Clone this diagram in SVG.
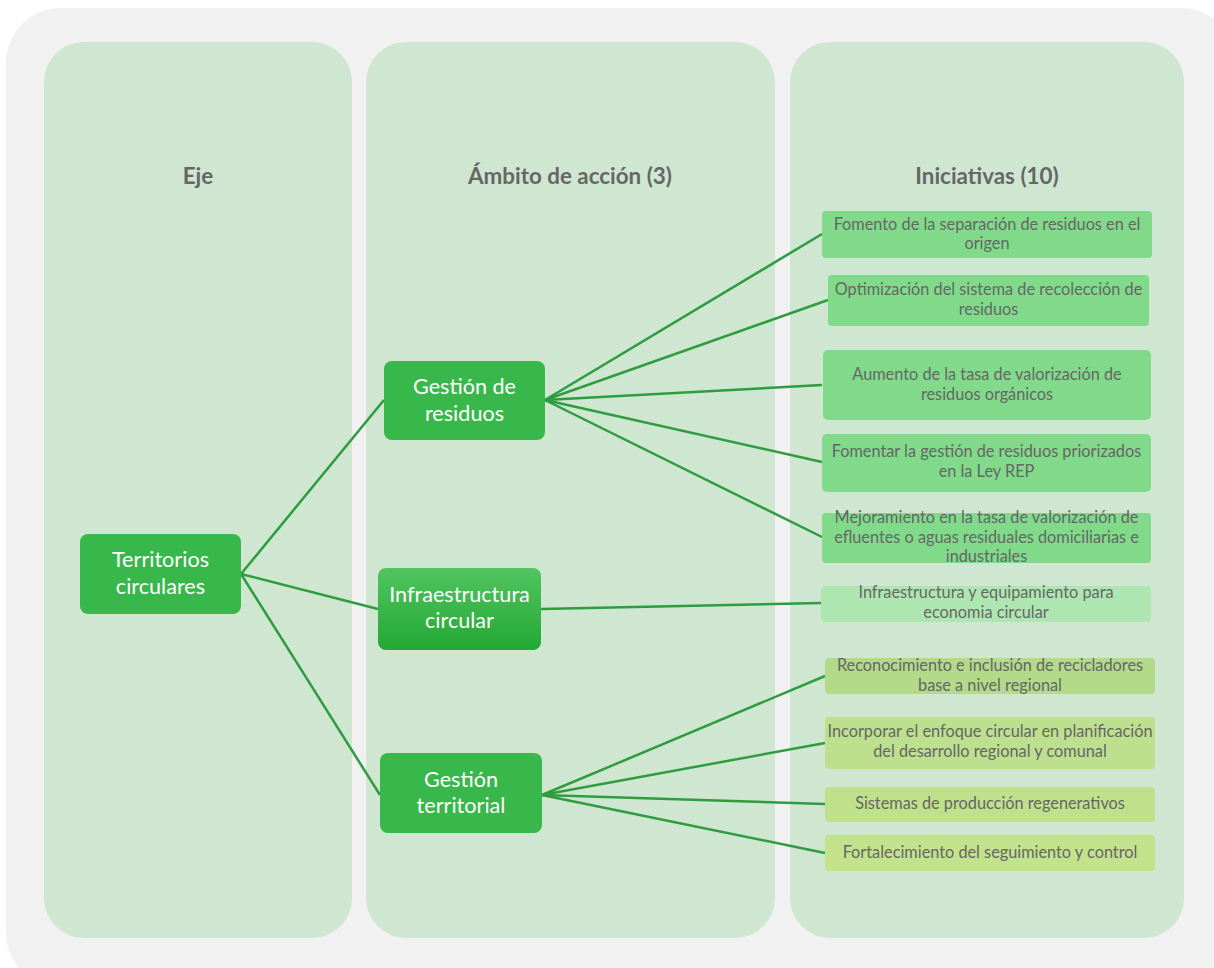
<svg xmlns="http://www.w3.org/2000/svg" width="1214" height="968" viewBox="0 0 1214 968">
<defs>
<linearGradient id="gInfra" x1="0" y1="0" x2="0" y2="1">
<stop offset="0" stop-color="#52c460"/>
<stop offset="1" stop-color="#22a834"/>
</linearGradient>
<style>
.col{fill:#cfe6d1}
.hdr{font-family:Lato,"Liberation Sans",sans-serif;font-weight:bold;font-size:22.4px;fill:#666;text-anchor:middle}
.main{fill:#38b84a}
.mt{font-family:Lato,"Liberation Sans",sans-serif;font-size:21.6px;fill:#fff;text-anchor:middle}
.it{font-family:Lato,"Liberation Sans",sans-serif;font-size:16.3px;fill:#666;text-anchor:middle}
.c{stroke:#2e9c3f;stroke-width:2.5;fill:none}
</style>
</defs>
<rect x="0" y="0" width="1214" height="968" fill="#fff"/>
<rect x="6" y="8" width="1230" height="980" rx="55" fill="#f1f1f1"/>
<rect class="col" x="44" y="42" width="308" height="896" rx="40"/>
<rect class="col" x="366" y="42" width="409" height="896" rx="40"/>
<rect class="col" x="790" y="42" width="394" height="896" rx="40"/>
<text class="hdr" x="198" y="184">Eje</text>
<text class="hdr" x="570" y="184">Ámbito de acción (3)</text>
<text class="hdr" x="987" y="184">Iniciativas (10)</text>
<g id="connectors">
<path class="c" d="M241 574 L384 400"/>
<path class="c" d="M241 574 L378 609"/>
<path class="c" d="M241 574 L380 795"/>
<path class="c" d="M545 400 L822 234"/>
<path class="c" d="M545 400 L828 300"/>
<path class="c" d="M545 400 L822 385"/>
<path class="c" d="M545 400 L822 462"/>
<path class="c" d="M545 400 L822 537"/>
<path class="c" d="M541 609 L821 603"/>
<path class="c" d="M542 795 L825 676"/>
<path class="c" d="M542 795 L825 743"/>
<path class="c" d="M542 795 L825 804"/>
<path class="c" d="M542 795 L825 853"/>
</g>
<g id="n-territorios">
<rect class="main" x="80" y="534" width="161" height="80" rx="8"/>
<text class="mt" x="160.5" y="567">Territorios</text>
<text class="mt" x="160.5" y="594">circulares</text>
</g>
<g id="n-residuos">
<rect class="main" x="384" y="361" width="161" height="79" rx="8"/>
<text class="mt" x="464.5" y="394">Gestión de</text>
<text class="mt" x="464.5" y="421">residuos</text>
</g>
<g id="n-infra">
<rect x="378" y="568" width="163" height="82" rx="8" fill="url(#gInfra)"/>
<text class="mt" x="459.5" y="602">Infraestructura</text>
<text class="mt" x="459.5" y="628">circular</text>
</g>
<g id="n-territorial">
<rect class="main" x="380" y="753" width="162" height="80" rx="8"/>
<text class="mt" x="461" y="787">Gestión</text>
<text class="mt" x="461" y="813">territorial</text>
</g>
<g id="i1">
<rect x="822" y="211" width="330" height="47" rx="4" fill="#80da8a"/>
<text class="it" x="987" y="230">Fomento de la separación de residuos en el</text>
<text class="it" x="987" y="249">origen</text>
</g>
<g id="i2">
<rect x="828" y="275" width="321" height="51" rx="4" fill="#80da8a"/>
<text class="it" x="988.5" y="295">Optimización del sistema de recolección de</text>
<text class="it" x="988.5" y="315">residuos</text>
</g>
<g id="i3">
<rect x="823" y="350" width="328" height="70" rx="5" fill="#80da8a"/>
<text class="it" x="987" y="380">Aumento de la tasa de valorización de</text>
<text class="it" x="987" y="400">residuos orgánicos</text>
</g>
<g id="i4">
<rect x="822" y="434" width="329" height="58" rx="5" fill="#80da8a"/>
<text class="it" x="986.5" y="457">Fomentar la gestión de residuos priorizados</text>
<text class="it" x="986.5" y="477">en la Ley REP</text>
</g>
<g id="i5">
<rect x="822" y="513" width="329" height="50" rx="4" fill="#80da8a"/>
<text class="it" x="986.5" y="523">Mejoramiento en la tasa de valorización de</text>
<text class="it" x="986.5" y="543">efluentes o aguas residuales domiciliarias e</text>
<text class="it" x="986.5" y="562">industriales</text>
</g>
<g id="i6">
<rect x="821" y="586" width="330" height="36" rx="4" fill="#aee6b2"/>
<text class="it" x="986" y="598">Infraestructura y equipamiento para</text>
<text class="it" x="986" y="618">economia circular</text>
</g>
<g id="i7">
<rect x="825" y="658" width="330" height="36" rx="4" fill="#b2da88"/>
<text class="it" x="990" y="671">Reconocimiento e inclusión de recicladores</text>
<text class="it" x="990" y="691">base a nivel regional</text>
</g>
<g id="i8">
<rect x="825" y="717" width="330" height="52" rx="4" fill="#bde08e"/>
<text class="it" x="990" y="737">Incorporar el enfoque circular en planificación</text>
<text class="it" x="990" y="757">del desarrollo regional y comunal</text>
</g>
<g id="i9">
<rect x="825" y="787" width="330" height="35" rx="4" fill="#bfe18c"/>
<text class="it" x="990" y="809">Sistemas de producción regenerativos</text>
</g>
<g id="i10">
<rect x="825" y="835" width="330" height="36" rx="4" fill="#c2e28b"/>
<text class="it" x="990" y="858">Fortalecimiento del seguimiento y control</text>
</g>
</svg>
